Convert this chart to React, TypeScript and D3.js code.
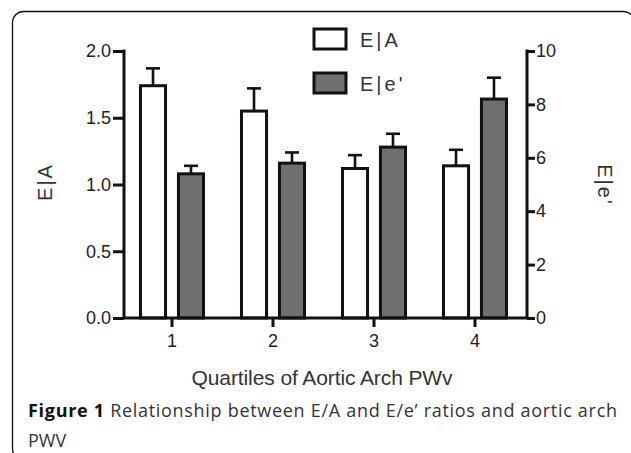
import React, { useEffect, useRef } from 'react';
import * as d3 from 'd3';

// values
const quartiles = ['1', '2', '3', '4'];
const eaMeans = [1.74, 1.55, 1.12, 1.14];
const eaErrors = [0.13, 0.17, 0.10, 0.12];
const eeMeans = [5.4, 5.8, 6.4, 8.2];
const eeErrors = [0.3, 0.4, 0.5, 0.8];
const leftTicks = [0, 0.5, 1.0, 1.5, 2.0];
const rightTicks = [0, 2, 4, 6, 8, 10];

const W = 631;
const H = 453;
const AXIS_FONT = '"Liberation Sans", Arial, sans-serif';
const TEXT = '#222';

const App: React.FC = () => {
  const svgRef = useRef<SVGSVGElement>(null);

  useEffect(() => {
    if (!svgRef.current) return;
    const svg = d3.select(svgRef.current);
    svg.selectAll('*').remove();

    const left = 124, right = 527, top = 51, bottom = 318;

    const x = d3.scaleBand<string>().domain(quartiles).range([121.5, 525.5]);
    const inner = d3.scaleBand<string>()
      .domain(['ea', 'ee'])
      .range([0, x.bandwidth()])
      .paddingInner(0.34)
      .paddingOuter(0.5);
    const yL = d3.scaleLinear().domain([0, 2]).range([bottom, top]);
    const yR = d3.scaleLinear().domain([0, 10]).range([bottom, top]);

    // frame with rounded corners, partly off the page
    svg.append('rect')
      .attr('x', 12.5).attr('y', 11.5)
      .attr('width', 622).attr('height', 448)
      .attr('rx', 11)
      .attr('fill', 'none')
      .attr('stroke', '#111')
      .attr('stroke-width', 1.3);

    const rows = quartiles.map((q, i) => ({
      q, ea: eaMeans[i], eaErr: eaErrors[i], ee: eeMeans[i], eeErr: eeErrors[i],
    }));

    const bw = inner.bandwidth();
    const g = svg.append('g');

    // error bars (upper only)
    const err = (key: 'ea' | 'ee', y: d3.ScaleLinear<number, number>, val: (d: any) => number, e: (d: any) => number) => {
      const eg = g.selectAll(`.err-${key}`).data(rows).enter().append('g');
      eg.append('line')
        .attr('x1', d => x(d.q)! + inner(key)! + bw / 2)
        .attr('x2', d => x(d.q)! + inner(key)! + bw / 2)
        .attr('y1', d => y(val(d)))
        .attr('y2', d => y(val(d) + e(d)))
        .attr('stroke', '#111').attr('stroke-width', 2.6);
      eg.append('line')
        .attr('x1', d => x(d.q)! + inner(key)! + bw / 2 - 7)
        .attr('x2', d => x(d.q)! + inner(key)! + bw / 2 + 7)
        .attr('y1', d => y(val(d) + e(d)))
        .attr('y2', d => y(val(d) + e(d)))
        .attr('stroke', '#111').attr('stroke-width', 2.6);
    };
    err('ea', yL, d => d.ea, d => d.eaErr);
    err('ee', yR, d => d.ee, d => d.eeErr);

    // bars
    g.selectAll('.bar-ea').data(rows).enter().append('rect')
      .attr('x', d => x(d.q)! + inner('ea')!)
      .attr('y', d => yL(d.ea))
      .attr('width', bw)
      .attr('height', d => bottom - yL(d.ea))
      .attr('fill', '#fff')
      .attr('stroke', '#111')
      .attr('stroke-width', 3);

    g.selectAll('.bar-ee').data(rows).enter().append('rect')
      .attr('x', d => x(d.q)! + inner('ee')!)
      .attr('y', d => yR(d.ee))
      .attr('width', bw)
      .attr('height', d => bottom - yR(d.ee))
      .attr('fill', '#6f6f6f')
      .attr('stroke', '#111')
      .attr('stroke-width', 3);

    // axes
    const styleAxis = (sel: d3.Selection<SVGGElement, unknown, null, undefined>) => {
      sel.selectAll('path.domain').remove();
      sel.selectAll('line').attr('stroke', '#111').attr('stroke-width', 3);
      sel.selectAll('text')
        .attr('fill', TEXT)
        .style('font-family', AXIS_FONT)
        .style('font-size', '18px');
    };

    const axL = svg.append('g').attr('transform', `translate(${left},0)`)
      .call(d3.axisLeft(yL).tickValues(leftTicks).tickFormat(d3.format('.1f')).tickSize(11).tickPadding(2).tickSizeOuter(0));
    styleAxis(axL);

    const axR = svg.append('g').attr('transform', `translate(${right},0)`)
      .call(d3.axisRight(yR).tickValues(rightTicks).tickFormat(d3.format('d')).tickSize(8).tickPadding(1).tickSizeOuter(0));
    styleAxis(axR);

    const axB = svg.append('g').attr('transform', `translate(0,${bottom})`)
      .call(d3.axisBottom(x).tickSize(9).tickPadding(7).tickSizeOuter(0));
    styleAxis(axB);

    // axis lines
    svg.append('path')
      .attr('d', `M${left},${top - 1.5}V${bottom}H${right}V${top - 1.5}`)
      .attr('fill', 'none')
      .attr('stroke', '#111')
      .attr('stroke-width', 3);

    // axis titles
    svg.append('text')
      .attr('transform', 'translate(52,182) rotate(-90)')
      .attr('text-anchor', 'middle')
      .attr('fill', '#333')
      .style('font-family', AXIS_FONT).style('font-size', '20px')
      .style('letter-spacing', '2px')
      .text('E|A');

    svg.append('text')
      .attr('transform', 'translate(598,185) rotate(90)')
      .attr('text-anchor', 'middle')
      .attr('fill', '#333')
      .style('font-family', AXIS_FONT).style('font-size', '20px')
      .style('letter-spacing', '2px')
      .text("E|e'");

    svg.append('text')
      .attr('x', 322).attr('y', 385)
      .attr('text-anchor', 'middle')
      .attr('fill', '#333')
      .style('font-family', AXIS_FONT).style('font-size', '21px')
      .style('letter-spacing', '-0.1px')
      .text('Quartiles of Aortic Arch PWv');

    // legend
    const legend = [
      { label: 'E|A', fill: '#fff', y: 29 },
      { label: "E|e'", fill: '#6f6f6f', y: 73 },
    ];
    const lg = svg.append('g');
    lg.selectAll('rect').data(legend).enter().append('rect')
      .attr('x', 314).attr('y', d => d.y)
      .attr('width', 32).attr('height', 20)
      .attr('fill', d => d.fill)
      .attr('stroke', '#111').attr('stroke-width', 3);
    lg.selectAll('text').data(legend).enter().append('text')
      .attr('x', 360).attr('y', d => d.y + 18)
      .attr('fill', '#333')
      .style('font-family', AXIS_FONT).style('font-size', '20px')
      .style('letter-spacing', '3px')
      .text(d => d.label);

    // caption
    const cap = svg.append('text')
      .attr('x', 28).attr('y', 417)
      .attr('textLength', 589)
      .attr('lengthAdjust', 'spacing')
      .style('font-family', '"Open Sans", "Noto Sans", sans-serif')
      .style('font-size', '18px');
    cap.append('tspan').attr('font-weight', 'bold').attr('fill', '#111').text('Figure 1');
    cap.append('tspan').attr('fill', '#333').text(' Relationship between E/A and E/e\u2019 ratios and aortic arch');

    svg.append('text')
      .attr('x', 28).attr('y', 447)
      .attr('fill', '#333')
      .style('font-family', '"Open Sans", "Noto Sans", sans-serif')
      .style('font-size', '18px')
      .text('PWV');
  }, []);

  return (
    <div style={{ position: 'absolute', left: 0, top: 0, width: W, height: H, background: '#fff' }}>
      <svg ref={svgRef} width={W} height={H} style={{ display: 'block' }} />
    </div>
  );
};

export default App;
